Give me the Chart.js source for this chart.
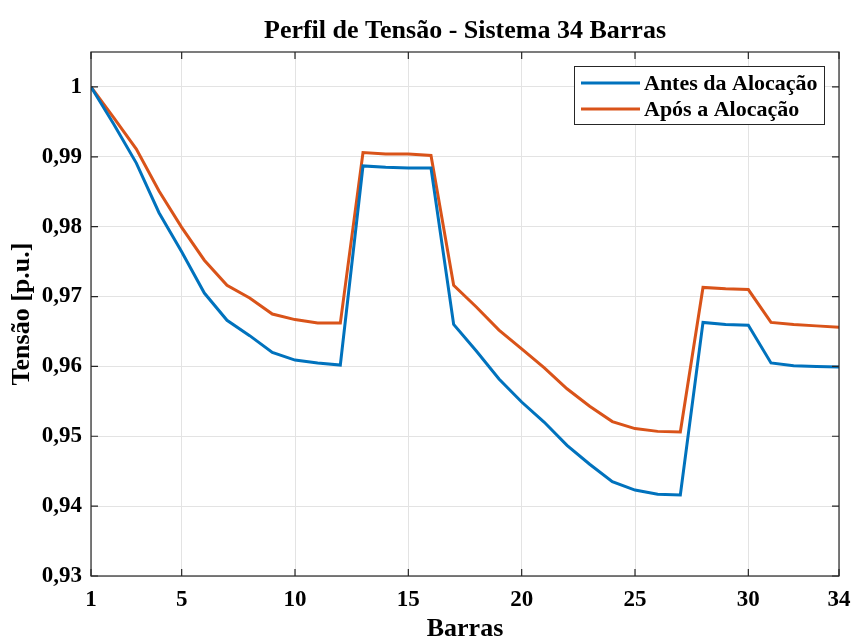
<!DOCTYPE html>
<html>
<head>
<meta charset="utf-8">
<script src="https://cdn.jsdelivr.net/npm/chart.js@4/dist/chart.umd.min.js"></script>
<style>
  html, body { margin: 0; padding: 0; background: #fff; }
  #wrap { width: 853px; height: 644px; position: relative; }
</style>
</head>
<body>
<div id="wrap"><canvas id="chart" width="853" height="644"></canvas></div>
<script>
// ---- data ----
const barras = [1, 2, 3, 4, 5, 6, 7, 8, 9, 10, 11, 12, 13, 14, 15, 16, 17,
    18, 19, 20, 21, 22, 23, 24, 25, 26, 27, 28, 29, 30, 31, 32, 33, 34];

const antesAlocacao = [1.0000, 0.9947, 0.9891, 0.9820, 0.9764, 0.9705, 0.9666, 0.9644,
    0.9620, 0.9609, 0.9605, 0.9602, 0.9887, 0.9885, 0.9884, 0.9884, 0.9660, 0.9622,
    0.9582, 0.9549, 0.9520, 0.9487, 0.9460, 0.9435, 0.9423, 0.9417, 0.9416, 0.9663,
    0.9660, 0.9659, 0.9605, 0.9601, 0.9600, 0.9599];

const aposAlocacao = [1.0000, 0.9956, 0.9911, 0.9851, 0.9799, 0.9752, 0.9716, 0.9698,
    0.9675, 0.9667, 0.9662, 0.9662, 0.9906, 0.9904, 0.9904, 0.9902, 0.9716, 0.9685,
    0.9652, 0.9625, 0.9598, 0.9568, 0.9543, 0.9521, 0.9511, 0.9507, 0.9506, 0.9713,
    0.9711, 0.9710, 0.9663, 0.9660, 0.9658, 0.9656];

const seriesLabels = ['Antes da Alocação', 'Após a Alocação'];
const xTicks = [1, 5, 10, 15, 20, 25, 30, 34];
const yTicks = [0.93, 0.94, 0.95, 0.96, 0.97, 0.98, 0.99, 1];
const chartTitle = 'Perfil de Tensão - Sistema 34 Barras';

const FONT = "'Liberation Serif', 'Times New Roman', serif";
const BLUE = '#0072BD';
const ORANGE = '#D95319';
const AXIS = '#262626';

const toPoints = (ys) => ys.map((y, i) => ({ x: barras[i], y: y }));
const fmtY = (v) => (Math.abs(v - 1) < 1e-9 ? '1' : v.toFixed(2).replace('.', ','));

// MATLAB-like box, inward ticks, title over the axes and boxed legend inside
const matlabBox = {
    id: 'matlabBox',
    afterDatasetsDraw(chart) {
        const { ctx, chartArea: a, scales } = chart;
        ctx.save();
        ctx.strokeStyle = AXIS;
        ctx.lineWidth = 1.2;
        ctx.strokeRect(a.left, a.top, a.right - a.left, a.bottom - a.top);

        const tl = 7;
        ctx.beginPath();
        xTicks.forEach(t => {
            const px = scales.x.getPixelForValue(t);
            ctx.moveTo(px, a.bottom); ctx.lineTo(px, a.bottom - tl);
            ctx.moveTo(px, a.top); ctx.lineTo(px, a.top + tl);
        });
        yTicks.forEach(t => {
            const py = scales.y.getPixelForValue(t);
            ctx.moveTo(a.left, py); ctx.lineTo(a.left + tl, py);
            ctx.moveTo(a.right, py); ctx.lineTo(a.right - tl, py);
        });
        ctx.stroke();

        // title, centred on the axes
        ctx.fillStyle = '#000';
        ctx.font = 'bold 26px ' + FONT;
        ctx.textAlign = 'center';
        ctx.textBaseline = 'middle';
        ctx.fillText(chartTitle, (a.left + a.right) / 2, 31);

        // legend
        const lx = 574, ly = 66, lw = 250, lh = 58;
        ctx.fillStyle = '#fff';
        ctx.fillRect(lx, ly, lw, lh);
        ctx.strokeStyle = AXIS;
        ctx.lineWidth = 1;
        ctx.strokeRect(lx + 0.5, ly + 0.5, lw, lh);
        ctx.font = 'bold 22px ' + FONT;
        ctx.textAlign = 'left';
        chart.data.datasets.forEach((ds, i) => {
            const yy = ly + 17 + i * 26;
            ctx.strokeStyle = ds.borderColor;
            ctx.lineWidth = 3;
            ctx.beginPath();
            ctx.moveTo(lx + 7, yy); ctx.lineTo(lx + 66, yy);
            ctx.stroke();
            ctx.fillStyle = '#000';
            ctx.fillText(ds.label, lx + 70, yy + 1);
        });
        ctx.restore();
    }
};

new Chart(document.getElementById('chart'), {
    type: 'line',
    data: {
        datasets: [
            { label: seriesLabels[0], data: toPoints(antesAlocacao), borderColor: BLUE, backgroundColor: BLUE },
            { label: seriesLabels[1], data: toPoints(aposAlocacao), borderColor: ORANGE, backgroundColor: ORANGE }
        ]
    },
    options: {
        responsive: false,
        animation: false,
        layout: { padding: { left: 0, right: 14, top: 52, bottom: 0 } },
        elements: {
            line: { borderWidth: 3, tension: 0 },
            point: { radius: 0 }
        },
        plugins: {
            legend: { display: false },
            tooltip: { enabled: false },
            title: { display: false }
        },
        scales: {
            x: {
                type: 'linear',
                min: 1,
                max: 34,
                afterBuildTicks: (s) => { s.ticks = xTicks.map(v => ({ value: v })); },
                afterFit: (s) => { s.height = 68; s.paddingLeft = 0; s.paddingRight = 0; },
                grid: { color: '#e3e3e3', drawTicks: false, lineWidth: 1 },
                border: { display: false },
                ticks: {
                    color: '#000',
                    padding: 10,
                    maxRotation: 0,
                    font: { family: FONT, size: 23, weight: 'bold' },
                    callback: (v) => String(v)
                },
                title: {
                    display: true,
                    text: 'Barras',
                    color: '#000',
                    font: { family: FONT, size: 26, weight: 'bold', lineHeight: 1.1 },
                    padding: { top: 0, bottom: 0 }
                }
            },
            y: {
                min: 0.93,
                max: 1.005,
                afterBuildTicks: (s) => { s.ticks = yTicks.map(v => ({ value: v })); },
                afterFit: (s) => { s.width = 91; s.paddingTop = 0; s.paddingBottom = 0; },
                grid: { color: '#e3e3e3', drawTicks: false, lineWidth: 1 },
                border: { display: false },
                ticks: {
                    color: '#000',
                    padding: 9,
                    font: { family: FONT, size: 23, weight: 'bold' },
                    callback: (v) => fmtY(v)
                },
                title: {
                    display: true,
                    text: 'Tensão [p.u.]',
                    color: '#000',
                    font: { family: FONT, size: 26, weight: 'bold', lineHeight: 1.1 },
                    padding: { top: 8, bottom: 0 }
                }
            }
        }
    },
    plugins: [matlabBox]
});
</script>
</body>
</html>
